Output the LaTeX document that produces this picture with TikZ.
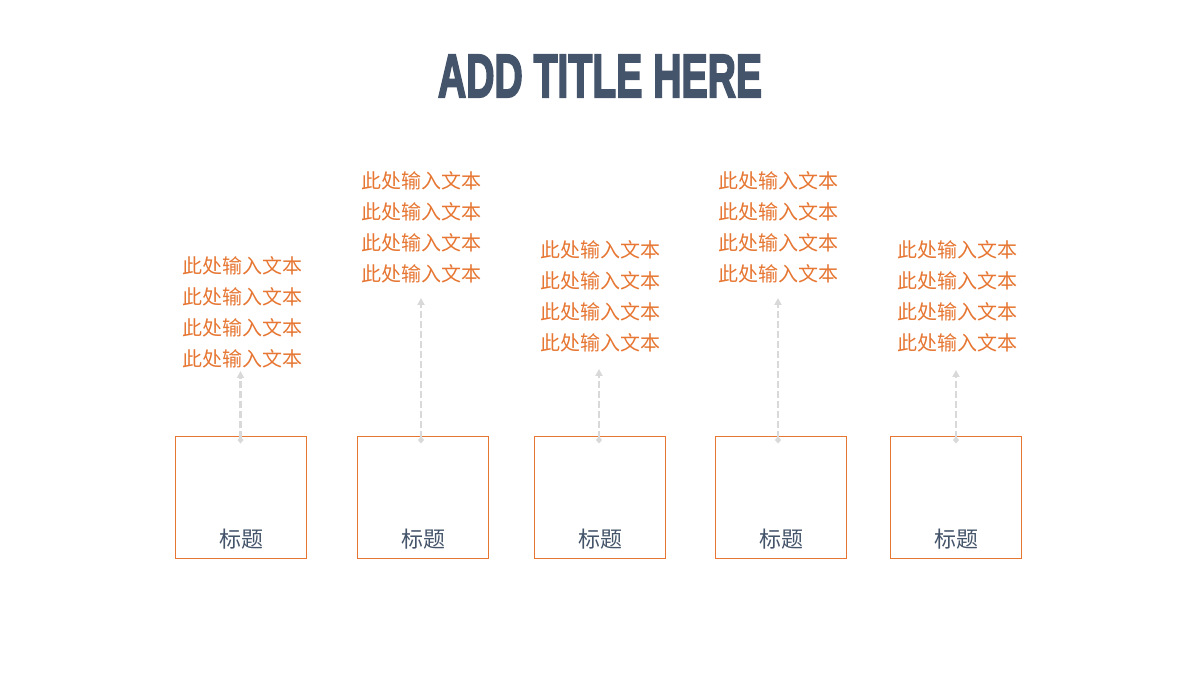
\documentclass[tikz,border=0pt]{standalone}
\usepackage{fontspec}
\usepackage{tikz}
\usetikzlibrary{arrows.meta}
\newfontfamily\cjk{Noto Sans CJK SC}
\newfontfamily\titlefont{Liberation Sans}[BoldFeatures={FakeBold=3.5}]
\definecolor{myorange}{RGB}{230,118,50}
\definecolor{myslate}{RGB}{68,84,106}
\definecolor{mygray}{RGB}{217,217,217}

\begin{document}
\begin{tikzpicture}[x=1pt,y=-1pt]
        \useasboundingbox[fill=white] (0,0) rectangle (1200,675);

        \coordinate (b1) at (241,497);
        \coordinate (b2) at (423,497);
        \coordinate (b3) at (600,497);
        \coordinate (b4) at (781,497);
        \coordinate (b5) at (956,497);

        \node[text=myslate] (Title) at (600,76){\titlefont\bfseries\resizebox{324pt}{42pt}{ADD TITLE HERE}};

        \node[draw=myorange,line width=1pt,minimum width=131pt,minimum height=122pt] (Box1) at (b1){};
        \node[draw=myorange,line width=1pt,minimum width=131pt,minimum height=122pt] (Box2) at (b2){};
        \node[draw=myorange,line width=1pt,minimum width=131pt,minimum height=122pt] (Box3) at (b3){};
        \node[draw=myorange,line width=1pt,minimum width=131pt,minimum height=122pt] (Box4) at (b4){};
        \node[draw=myorange,line width=1pt,minimum width=131pt,minimum height=122pt] (Box5) at (b5){};

        \node[text=myslate,font=\cjk\fontsize{22}{26}\selectfont] (Head1) at (241,539){标题};
        \node[text=myslate,font=\cjk\fontsize{22}{26}\selectfont] (Head2) at (423,539){标题};
        \node[text=myslate,font=\cjk\fontsize{22}{26}\selectfont] (Head3) at (600,539){标题};
        \node[text=myslate,font=\cjk\fontsize{22}{26}\selectfont] (Head4) at (781,539){标题};
        \node[text=myslate,font=\cjk\fontsize{22}{26}\selectfont] (Head5) at (956,539){标题};

        \node[text=myorange,align=center,inner sep=2pt,font=\cjk\fontsize{20}{31}\selectfont] (Text1) at (242,312){此处输入文本\\此处输入文本\\此处输入文本\\此处输入文本};
        \node[text=myorange,align=center,inner sep=2pt,font=\cjk\fontsize{20}{31}\selectfont] (Text2) at (421,227){此处输入文本\\此处输入文本\\此处输入文本\\此处输入文本};
        \node[text=myorange,align=center,inner sep=2pt,font=\cjk\fontsize{20}{31}\selectfont] (Text3) at (600,296){此处输入文本\\此处输入文本\\此处输入文本\\此处输入文本};
        \node[text=myorange,align=center,inner sep=2pt,font=\cjk\fontsize{20}{31}\selectfont] (Text4) at (778,227){此处输入文本\\此处输入文本\\此处输入文本\\此处输入文本};
        \node[text=myorange,align=center,inner sep=2pt,font=\cjk\fontsize{20}{31}\selectfont] (Text5) at (957,296){此处输入文本\\此处输入文本\\此处输入文本\\此处输入文本};

        % dashed pointers from box to text
        \draw[mygray,line width=2.5pt,dash pattern=on 7pt off 3pt,{Diamond[length=7pt,width=6pt,sep=-3pt]}-{Triangle[length=7pt,width=7pt]}] ([xshift=-0.5pt,yshift=-5pt]Box1.north) -- ([xshift=-1.5pt,yshift=-1pt]Text1.south);
        \draw[mygray,line width=2.5pt,dash pattern=on 7pt off 3pt,{Diamond[length=7pt,width=6pt,sep=-3pt]}-{Triangle[length=7pt,width=7pt]}] ([xshift=-2pt,yshift=-5pt]Box2.north) -- ([xshift=0pt,yshift=-13pt]Text2.south);
        \draw[mygray,line width=2.5pt,dash pattern=on 7pt off 3pt,{Diamond[length=7pt,width=6pt,sep=-3pt]}-{Triangle[length=7pt,width=7pt]}] ([xshift=-1pt,yshift=-5pt]Box3.north) -- ([xshift=-1pt,yshift=-15pt]Text3.south);
        \draw[mygray,line width=2.5pt,dash pattern=on 7pt off 3pt,{Diamond[length=7pt,width=6pt,sep=-3pt]}-{Triangle[length=7pt,width=7pt]}] ([xshift=-3pt,yshift=-5pt]Box4.north) -- ([xshift=0pt,yshift=-13pt]Text4.south);
        \draw[mygray,line width=2.5pt,dash pattern=on 7pt off 3pt,{Diamond[length=7pt,width=6pt,sep=-3pt]}-{Triangle[length=7pt,width=7pt]}] ([xshift=0pt,yshift=-5pt]Box5.north) -- ([xshift=-1pt,yshift=-16pt]Text5.south);
    \end{tikzpicture}
\end{document}
